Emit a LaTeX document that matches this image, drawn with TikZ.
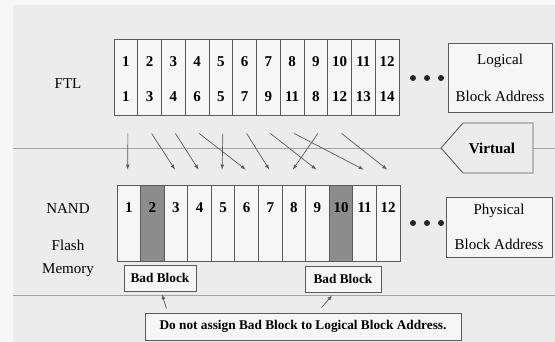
\documentclass[tikz,border=0pt]{standalone}
\usepackage{fontspec}
\setmainfont{Liberation Serif}
\usetikzlibrary{calc}
\definecolor{panel}{HTML}{ECECEC}
\definecolor{cell}{HTML}{F6F6F6}
\definecolor{edge}{HTML}{5A5A5A}
\definecolor{badfill}{HTML}{8C8C8C}
\tikzset{
  blk/.style={draw=edge, line width=0.9pt, minimum width=23.7pt, minimum height=76pt, inner sep=0pt},
  num/.style={font=\fontsize{15}{18}\selectfont\bfseries, inner sep=0pt},
  addr/.style={draw=edge, line width=0.9pt, fill=cell, align=center, inner sep=0pt},
  tag/.style={draw=edge, line width=0.9pt, fill=cell, font=\fontsize{13.3}{16}\selectfont\bfseries, inner sep=0pt},
  map/.style={->, >=latex, draw=edge, line width=0.7pt}
}
\begin{document}
\begin{tikzpicture}[x=1pt,y=-1pt,font=\fontsize{15}{18}\selectfont]
\useasboundingbox (0,0) rectangle (555,342);
\fill[white!60!panel] (0,0) rectangle (555,342);
\fill[panel] (13,5) rectangle (555,342);
\draw[edge!55, line width=0.8pt] (13,148) -- (555,148);
\draw[edge!55, line width=0.8pt] (13,295) -- (555,295);

\node (ftl) at (68,84) {FTL};
\node (nand) at (68,209) {NAND};
\node (flash) at (68,245) {Flash};
\node (mem) at (68,270) {Memory};

\foreach \i/\j in {1/1,2/3,3/4,4/6,5/5,6/7,7/9,8/11,9/8,10/12,11/13,12/14} {
  \node[blk, fill=cell] (l\i) at ({114+23.75*(\i-0.5)},77) {};
  \node[num] (lt\i) at ($(l\i)+(0,-15)$) {\i};
  \node[num] (lb\i) at ($(l\i)+(0,20)$) {\j};
}
\foreach \i/\f in {1/cell,2/badfill,3/cell,4/cell,5/cell,6/cell,7/cell,8/cell,9/cell,10/badfill,11/cell,12/cell} {
  \node[blk, fill=\f, minimum width=23.6pt] (p\i) at ({117+23.58*(\i-0.5)},223) {};
  \node[num] (pn\i) at ($(p\i)+(0,-15)$) {\i};
}
\foreach \x in {413,427,441} {
  \fill[black!85] (\x,78) circle (3);
  \fill[black!85] (\x,223) circle (3);
}

\node[addr, minimum width=104pt, minimum height=69pt] (lba) at (500,77.5) {Logical\\[19pt]Block Address};
\node[addr, minimum width=106pt, minimum height=60pt] (pba) at (499,227) {Physical\\[17pt]Block Address};

\draw[edge, line width=0.9pt, fill=panel] (463,123) -- (533,123) -- (533,173) -- (463,173) -- (441,148) -- cycle;
\node[font=\fontsize{15}{18}\selectfont\bfseries] (virt) at (492,148) {Virtual};

\foreach \a/\b in {1/1,2/3,3/4,4/6,5/5,6/7,7/9,8/11,9/8,10/12}
  \draw[map] ($(l\a.south)+(2,18)$) -- ($(p\b.north)+(-1,-15)$);

\node[tag, minimum width=72pt, minimum height=26pt] (bad1) at (160,278) {Bad Block};
\node[tag, minimum width=76pt, minimum height=26pt] (bad2) at (343,279) {Bad Block};
\node[tag, minimum width=316pt, minimum height=27pt] (note) at (303,326.5) {Do not assign Bad Block to Logical Block Address.};

\draw[map] ($(note.north west)+(22,-4)$) -- ($(bad1.south)+(2,3)$);
\draw[map] ($(note.north west)+(177,-5)$) -- ($(bad2.south)+(-11,3)$);
\end{tikzpicture}
\end{document}
